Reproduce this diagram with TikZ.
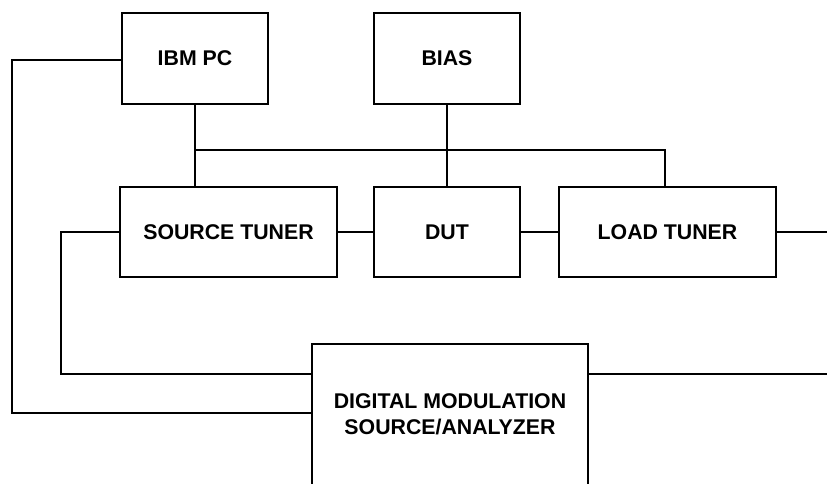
\documentclass[tikz,border=0pt]{standalone}
\usepackage{fontspec}
\setmainfont{Liberation Sans}
\begin{document}
\begin{tikzpicture}[x=1pt,y=-1pt,
  blk/.style={draw, line width=1.4pt, inner sep=0pt, align=center,
    font=\fontsize{21.3}{26}\selectfont\bfseries},
  wire/.style={line width=2.8pt, line cap=rect}]
\useasboundingbox (0,0) rectangle (827,483);
\clip (0,0) rectangle (827,483);
\node[blk, minimum width=146, minimum height=91] (ibm) at (195,58.5) {IBM PC};
\node[blk, minimum width=146, minimum height=91] (bias) at (447,58.5) {BIAS};
\node[blk, minimum width=217, minimum height=90] (st) at (228.5,232) {SOURCE TUNER};
\node[blk, minimum width=146, minimum height=90] (dut) at (447,232) {DUT};
\node[blk, minimum width=217, minimum height=90] (lt) at (667.5,232) {LOAD TUNER};
\node[blk, minimum width=276, minimum height=141] (dmsa) at (450,414.5) {DIGITAL MODULATION\\SOURCE/ANALYZER};
% free ends
\coordinate (b1) at (195,150);
\coordinate (b2) at (665,150);
\coordinate (l1) at (12,60);
\coordinate (l2) at (12,413);
\coordinate (s1) at (61,232);
\coordinate (s2) at (61,374);
\coordinate (r1) at (827,232);
\coordinate (r2) at (827,374);
% connectors
\draw[wire] (ibm.south) -- (st.north -| ibm.south);
\draw[wire] (b1) -- (b2) -- (b2 |- lt.north);
\draw[wire] (bias.south) -- (dut.north);
\draw[wire] (st.east) -- (dut.west);
\draw[wire] (dut.east) -- (lt.west);
\draw[wire] (lt.east) -- (r1);
\draw[wire] (ibm.west |- l1) -- (l1) -- (l2) -- (dmsa.west |- l2);
\draw[wire] (st.west |- s1) -- (s1) -- (s2) -- (dmsa.west |- s2);
\draw[wire] (dmsa.east |- r2) -- (r2);
\end{tikzpicture}
\end{document}
